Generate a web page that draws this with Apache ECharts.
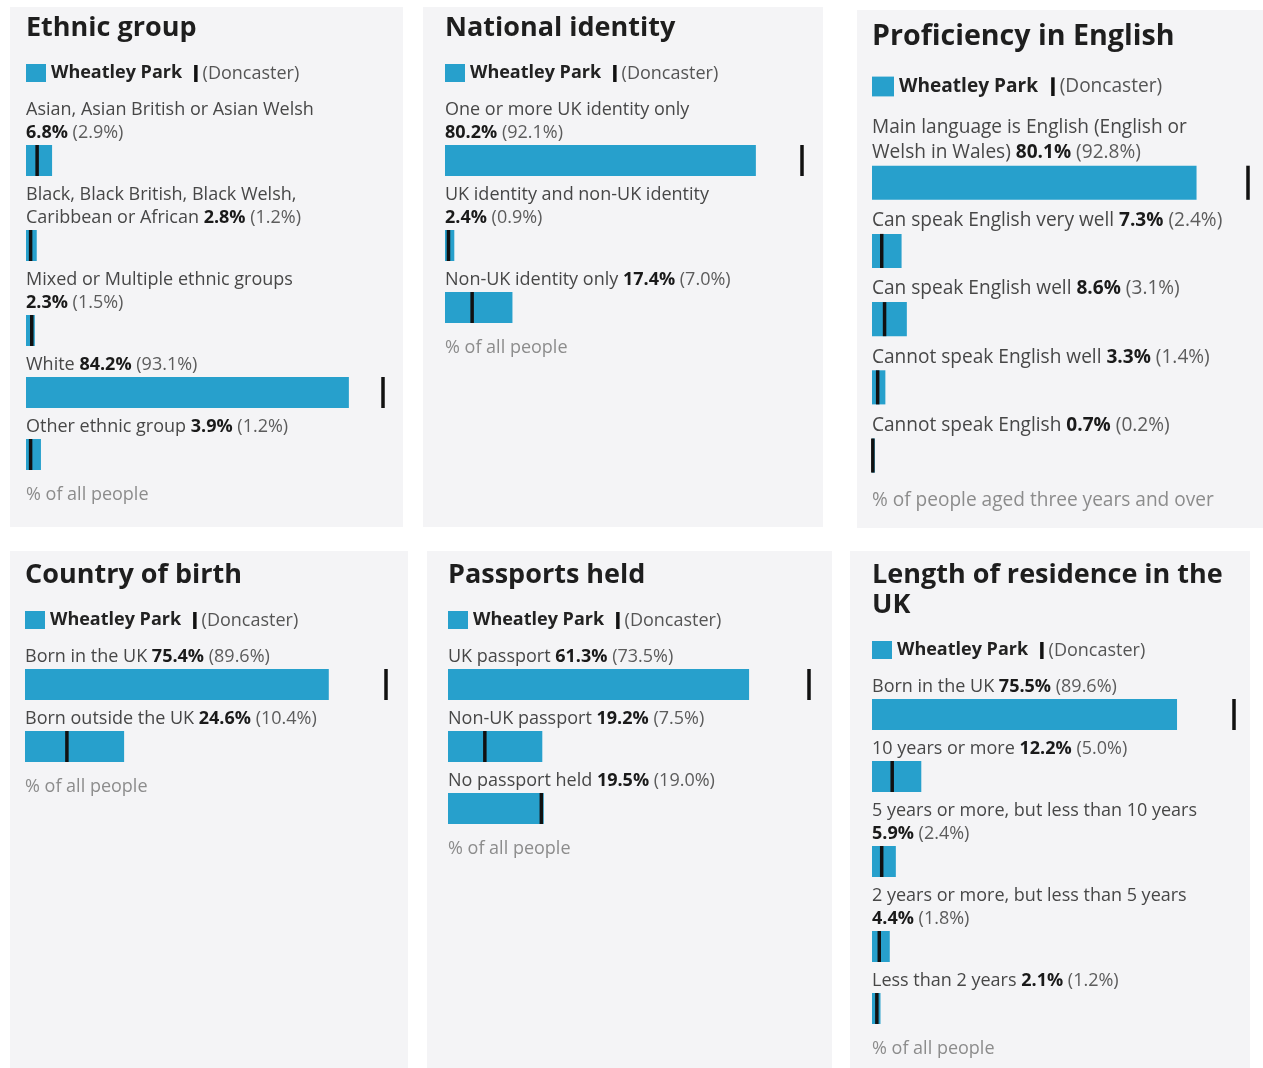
<!DOCTYPE html>
<html><head><meta charset="utf-8">
<script src="https://cdn.jsdelivr.net/npm/echarts@6/dist/echarts.min.js"></script>
<style>
html,body{margin:0;padding:0;background:#fff;width:1263px;height:1068px;overflow:hidden;}
.panel{position:absolute;background:#f4f4f6;}
</style></head><body>
<div id="p1" class="panel"></div>
<div id="p2" class="panel"></div>
<div id="p3" class="panel"></div>
<div id="p4" class="panel"></div>
<div id="p5" class="panel"></div>
<div id="p6" class="panel"></div>
<script>
// ---------- DATA ----------
const areaName = 'Wheatley Park';
const compareName = '(Doncaster)';

const ethnicTitle = 'Ethnic group';
const ethnicCategories = ['Asian, Asian British or Asian Welsh', 'Black, Black British, Black Welsh, Caribbean or African', 'Mixed or Multiple ethnic groups', 'White', 'Other ethnic group'];
const ethnicWheatley = [6.8, 2.8, 2.3, 84.2, 3.9];
const ethnicDoncaster = [2.9, 1.2, 1.5, 93.1, 1.2];

const identityTitle = 'National identity';
const identityCategories = ['One or more UK identity only', 'UK identity and non-UK identity', 'Non-UK identity only'];
const identityWheatley = [80.2, 2.4, 17.4];
const identityDoncaster = [92.1, 0.9, 7.0];

const englishTitle = 'Proficiency in English';
const englishCategories = ['Main language is English (English or Welsh in Wales)', 'Can speak English very well', 'Can speak English well', 'Cannot speak English well', 'Cannot speak English'];
const englishWheatley = [80.1, 7.3, 8.6, 3.3, 0.7];
const englishDoncaster = [92.8, 2.4, 3.1, 1.4, 0.2];

const birthTitle = 'Country of birth';
const birthCategories = ['Born in the UK', 'Born outside the UK'];
const birthWheatley = [75.4, 24.6];
const birthDoncaster = [89.6, 10.4];

const passportTitle = 'Passports held';
const passportCategories = ['UK passport', 'Non-UK passport', 'No passport held'];
const passportWheatley = [61.3, 19.2, 19.5];
const passportDoncaster = [73.5, 7.5, 19.0];

const residenceTitle = 'Length of residence in the UK';
const residenceCategories = ['Born in the UK', '10 years or more', '5 years or more, but less than 10 years', '2 years or more, but less than 5 years', 'Less than 2 years'];
const residenceWheatley = [75.5, 12.2, 5.9, 4.4, 2.1];
const residenceDoncaster = [89.6, 5.0, 2.4, 1.8, 1.2];

const footerAll = '% of all people';
const footerThree = '% of people aged three years and over';

// ---------- STYLE ----------
const BLUE = '#27a0cc', MARK = '#111111';
const FONT = '"Open Sans", "Noto Sans", sans-serif';
const ctx = document.createElement('canvas').getContext('2d');
function textW(str, size, weight) {
  ctx.font = (weight || 'normal') + ' ' + size + 'px ' + FONT;
  return ctx.measureText(str).width;
}
function wrapWords(text, size, weight, maxW) {
  const words = text.split(' ');
  const lines = [];
  let cur = '';
  words.forEach(w => {
    const t = cur ? cur + ' ' + w : w;
    if (!cur || textW(t, size, weight) <= maxW) cur = t;
    else { lines.push(cur); cur = w; }
  });
  if (cur) lines.push(cur);
  return lines;
}

function buildPanel(spec) {
  const el = document.getElementById(spec.id);
  el.style.left = spec.box[0] + 'px';
  el.style.top = spec.box[1] + 'px';
  el.style.width = spec.box[2] + 'px';
  el.style.height = spec.box[3] + 'px';
  const s = spec.scale, f = spec.fontScale;
  const fs = 18 * f, lh = 23 * s, barH = 31 * s;
  const L = spec.left;
  const titleLH = 30 * s, titleFS = 27 * f;
  const titleLines = wrapWords(spec.title, titleFS, 'bold', spec.titleWrapW);
  const lastTitleCenter = spec.titleY + (titleLines.length - 1) * titleLH;
  const legendY = lastTitleCenter + 45 * s;
  let cursor = lastTitleCenter + 82 * s;
  const maxV = Math.max(...spec.wheatley, ...spec.doncaster);
  const grid = [], xAxis = [], yAxis = [], series = [];
  let lastBottom = 0;
  spec.categories.forEach((cat, i) => {
    const w = spec.wheatley[i], d = spec.doncaster[i];
    const vStr = w.toFixed(1) + '%', dStr = '(' + d.toFixed(1) + '%)';
    const unitW = textW(vStr, fs, 'bold') + textW(' ' + dStr, fs);
    const lines = wrapWords(cat, fs, 'normal', spec.wrapW);
    const unit = '{v|' + vStr + '} {q|' + dStr + '}';
    const last = lines[lines.length - 1];
    if (textW(last + ' ', fs) + unitW <= spec.wrapW) lines[lines.length - 1] = last + ' ' + unit;
    else lines.push(unit);
    const labelStr = lines.join('\n');
    const barTop = cursor + (lines.length - 1) * lh + 12 * s;
    grid.push({ left: L, top: barTop, width: spec.gridW, height: barH });
    xAxis.push({ type: 'value', gridIndex: i, min: 0, max: maxV, show: false });
    yAxis.push({ type: 'category', gridIndex: i, data: [cat], show: false });
    series.push({
      type: 'bar', name: areaName, xAxisIndex: i, yAxisIndex: i, data: [w],
      barWidth: barH, clip: false, silent: true,
      itemStyle: { color: BLUE },
      label: {
        show: true, position: [0, -0.5 * s], align: 'left', verticalAlign: 'bottom',
        formatter: () => labelStr,
        color: '#474747', fontSize: fs, fontFamily: FONT, lineHeight: lh,
        rich: {
          v: { fontWeight: 'bold', color: '#1a1a1a', fontSize: fs, fontFamily: FONT, lineHeight: lh },
          q: { color: '#5c5c5c', fontSize: fs, fontFamily: FONT, lineHeight: lh }
        }
      }
    });
    series.push({
      type: 'scatter', name: compareName, xAxisIndex: i, yAxisIndex: i, data: [[d, 0]],
      symbol: 'rect', symbolSize: [3.5, barH], clip: false, silent: true, z: 3,
      itemStyle: { color: MARK, opacity: 1 }
    });
    lastBottom = barTop + barH;
    cursor = lastBottom + 19 * s;
  });
  const footerCenter = lastBottom + 25 * s;
  const leg2Left = L + 20 * s + 5 + textW(areaName, fs, 'bold') + 12 * s;
  const chart = echarts.init(el, null, { renderer: 'canvas' });
  chart.setOption({
    animation: false,
    title: [
      { text: titleLines.join('\n'), left: L, top: spec.titleY - titleLH / 2, padding: 0,
        textStyle: { fontSize: titleFS, fontWeight: 'bold', color: '#1e1e1e', fontFamily: FONT, lineHeight: titleLH } },
      { text: spec.footer, left: L, top: footerCenter - lh / 2, padding: 0,
        textStyle: { fontSize: fs, fontWeight: 'normal', color: '#8c8c8c', fontFamily: FONT, lineHeight: lh } }
    ],
    legend: [
      { data: [{ name: areaName, icon: 'rect' }], left: L, top: legendY - 9 * s, padding: 0,
        itemWidth: 20 * s, itemHeight: 18 * s, selectedMode: false,
        textStyle: { fontSize: fs, fontWeight: 'bold', color: '#222', fontFamily: FONT } },
      { data: [{ name: compareName, icon: 'rect', itemStyle: { color: MARK, opacity: 1 } }], left: leg2Left, top: legendY - 8.5 * s, padding: 0,
        itemWidth: 3.5, itemHeight: 17 * s, selectedMode: false,
        textStyle: { fontSize: fs, color: '#555', fontFamily: FONT } }
    ],
    grid, xAxis, yAxis, series
  });
}

buildPanel({ id: 'p1', box: [10, 7, 393, 520], left: 16, titleY: 21, gridW: 357, wrapW: 350, titleWrapW: 365, scale: 1, fontScale: 1,
  title: ethnicTitle, categories: ethnicCategories, wheatley: ethnicWheatley, doncaster: ethnicDoncaster, footer: footerAll });
buildPanel({ id: 'p2', box: [423, 7, 400, 520], left: 22, titleY: 21, gridW: 357, wrapW: 350, titleWrapW: 365, scale: 1, fontScale: 1,
  title: identityTitle, categories: identityCategories, wheatley: identityWheatley, doncaster: identityDoncaster, footer: footerAll });
buildPanel({ id: 'p3', box: [857, 10, 406, 518], left: 15, titleY: 27, gridW: 376, wrapW: 364, titleWrapW: 380, scale: 1.1, fontScale: 1.06,
  title: englishTitle, categories: englishCategories, wheatley: englishWheatley, doncaster: englishDoncaster, footer: footerThree });
buildPanel({ id: 'p4', box: [10, 551, 398, 517], left: 15, titleY: 24, gridW: 361, wrapW: 350, titleWrapW: 365, scale: 1, fontScale: 1,
  title: birthTitle, categories: birthCategories, wheatley: birthWheatley, doncaster: birthDoncaster, footer: footerAll });
buildPanel({ id: 'p5', box: [427, 551, 405, 517], left: 21, titleY: 24, gridW: 361, wrapW: 350, titleWrapW: 365, scale: 1, fontScale: 1,
  title: passportTitle, categories: passportCategories, wheatley: passportWheatley, doncaster: passportDoncaster, footer: footerAll });
buildPanel({ id: 'p6', box: [850, 551, 400, 517], left: 22, titleY: 24, gridW: 362, wrapW: 350, titleWrapW: 365, scale: 1, fontScale: 1,
  title: residenceTitle, categories: residenceCategories, wheatley: residenceWheatley, doncaster: residenceDoncaster, footer: footerAll });
</script>
</body></html>
